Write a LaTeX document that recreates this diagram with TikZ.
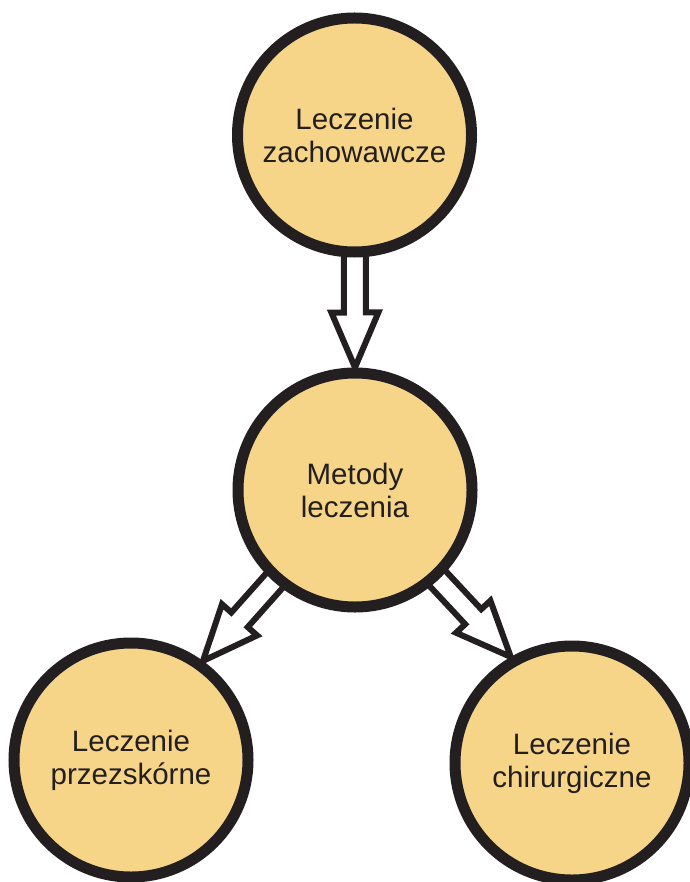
\documentclass[tikz,border=0pt]{standalone}
\usepackage{fontspec}
\setmainfont{Liberation Sans}
\usepackage{tikz}
\usetikzlibrary{calc, backgrounds}
\definecolor{mybeige}{RGB}{246, 213, 137}
\definecolor{mydark}{RGB}{35, 31, 32}
\newcommand{\hollowarrow}[2]{%
  \coordinate (hb) at ($(#2)!55pt!(#1)$);
  \draw[a0] ($(#1)!11pt!90:(#2)$) -- ($(hb)!11pt!90:(#2)$) -- ($(hb)!23.5pt!90:(#2)$) -- (#2)
     -- ($(hb)!23.5pt!-90:(#2)$) -- ($(hb)!11pt!-90:(#2)$) -- ($(#1)!11pt!-90:(#2)$) -- cycle;
}

\begin{document}
\begin{tikzpicture}[
    x = 1pt, y = -1pt,
    c0/.style = {circle, draw = mydark, line width = 11pt, fill = mybeige, minimum size = 234pt,
                 text = mydark, align = center, font = \fontsize{29.5}{33}\selectfont},
    a0/.style = {draw = mydark, line width = 6pt, fill = white, line join = miter}
]
\useasboundingbox (0,0) rectangle (689, 882);

\node[c0] (top) at (354.5, 135) {Leczenie\\zachowawcze};
\node[c0] (mid) at (355, 490) {Metody\\leczenia};
\node[c0] (bl) at (131, 760) {Leczenie\\przezsk\'orne};
\node[c0] (br) at (572, 763) {Leczenie\\chirurgiczne};

\begin{scope}[on background layer]
\hollowarrow{top.center}{mid.north}
\hollowarrow{mid.center}{bl.54}
\hollowarrow{mid.center}{br.120}
\end{scope}

\end{tikzpicture}
\end{document}
